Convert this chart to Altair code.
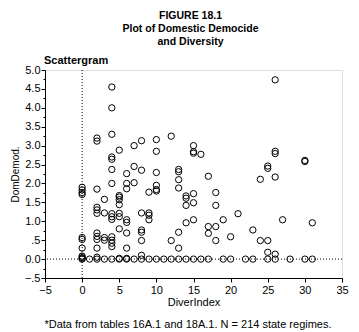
import altair as alt
import pandas as pd

# DiverIndex (x) and DomDemod. (y) readings, paired by position
diver_index = (
    [0]*11 + [1] + [2]*12 + [3]*5 + [4]*15 + [5]*10 + [6]*9 + [7]*4 + [8]*8 + [9]*5 + [10]*7
    + [11] + [12]*3 + [13]*7 + [14]*5 + [15]*7 + [16]*2 + [17]*4 + [18]*4 + [19]*2 + [20]*2
    + [21] + [22] + [23]*2 + [24]*2 + [25]*5 + [26]*6 + [27] + [28] + [30]*3 + [31]*2
)
dom_demod = (
    [1.90, 1.83, 1.76, 1.71, 0.57, 0.52, 0.29, 0.08, 0.04, 0.02, 0.0]          # 0
    + [0.0]                                                                       # 1
    + [3.20, 3.12, 1.85, 1.37, 1.30, 1.21, 0.69, 0.60, 0.52, 0.29, 0.05, 0.0]     # 2
    + [1.58, 1.22, 0.57, 0.50, 0.0]                                               # 3
    + [4.55, 4.00, 3.30, 2.70, 2.64, 2.37, 2.00, 1.20, 1.12, 1.05, 0.59, 0.50, 0.42, 0.33, 0.0]  # 4
    + [2.88, 1.68, 1.64, 1.57, 1.44, 1.21, 1.12, 0.80, 0.02, 0.0]                 # 5
    + [2.26, 2.00, 1.86, 1.04, 0.97, 0.69, 0.29, 0.02, 0.0]                       # 6
    + [3.00, 2.45, 2.02, 0.0]                                                     # 7
    + [3.13, 2.35, 1.22, 0.77, 0.71, 0.49, 0.10, 0.0]                             # 8
    + [1.77, 1.22, 1.16, 1.04, 0.0]                                               # 9
    + [3.16, 2.85, 2.29, 1.95, 1.84, 1.80, 0.0]                                   # 10
    + [0.0]                                                                       # 11
    + [3.25, 0.49, 0.0]                                                           # 12
    + [2.37, 2.31, 2.10, 1.88, 0.71, 0.29, 0.0]                                   # 13
    + [1.67, 1.61, 1.42, 0.96, 0.0]                                               # 14
    + [3.00, 2.84, 2.80, 1.73, 1.49, 1.04, 0.0]                                   # 15
    + [2.77, 0.0]                                                                 # 16
    + [2.19, 0.86, 0.68, 0.0]                                                     # 17
    + [1.76, 1.42, 0.86, 0.49]                                                    # 18
    + [1.04, 0.0]                                                                 # 19
    + [0.59, 0.0]                                                                 # 20
    + [1.20]                                                                      # 21
    + [0.0]                                                                       # 22
    + [0.77, 0.0]                                                                 # 23
    + [2.11, 0.49]                                                                # 24
    + [2.46, 2.40, 0.49, 0.18, 0.0]                                               # 25
    + [4.74, 2.85, 2.79, 2.17, 0.13, 0.0]                                         # 26
    + [1.04]                                                                      # 27
    + [0.0]                                                                       # 28
    + [2.61, 2.58, 0.0]                                                           # 30
    + [0.96, 0.0]                                                                 # 31
)

x_ticks = [-5, 0, 5, 10, 15, 20, 25, 30, 35]
y_ticks = [-0.5 + 0.25 * i for i in range(23)]

title_lines = ["FIGURE 18.1", "Plot of Domestic Democide", "and Diversity"]
panel_label = ["Scattergram"]
footnote = ["*Data from tables 16A.1 and 18A.1. N = 214 state regimes."]

df = pd.DataFrame({"DiverIndex": diver_index, "DomDemod": dom_demod})

FONT = "Liberation Sans"

xscale = alt.Scale(domain=[-5, 35], nice=False, zero=False)
yscale = alt.Scale(domain=[-0.5, 5.0], nice=False, zero=False)

x_axis = alt.Axis(
    values=x_ticks, grid=False, domainColor="black", tickColor="black",
    tickSize=4, labelFont=FONT, labelFontSize=11, labelColor="black",
    labelPadding=2, labelOverlap=False, labelFlush=False, labelBound=False,
    title="DiverIndex", titleFont=FONT, titleFontSize=11,
    titleFontWeight="normal", titleColor="black", titlePadding=1,
)
y_axis = alt.Axis(
    values=y_ticks, grid=False, domainColor="black", tickColor="black",
    tickSize={"condition": {"test": "abs(datum.value*2 - round(datum.value*2)) > 0.01", "value": 2}, "value": 4},
    labelExpr="abs(datum.value*2 - round(datum.value*2)) > 0.01 ? '' : (abs(datum.value) < 1 && datum.value != 0 ? replace(format(datum.value, '.1f'), '0.', '.') : format(datum.value, '.1f'))",
    labelFont=FONT, labelFontSize=11, labelColor="black", labelPadding=1,
    labelOverlap=False, labelFlush=False, labelBound=False,
    title="DomDemod.", titleFont=FONT, titleFontSize=10, titleFontWeight="normal",
    titleColor="black", titlePadding=4,
)

base = alt.Chart(df)

points = base.mark_point(
    shape="circle", filled=False, color="black", size=40, strokeWidth=1, opacity=1
).encode(
    x=alt.X("DiverIndex:Q", scale=xscale, axis=x_axis),
    y=alt.Y("DomDemod:Q", scale=yscale, axis=y_axis),
)

vline = alt.Chart(pd.DataFrame({"x": [0]})).mark_rule(
    color="black", strokeDash=[1, 2], strokeWidth=1
).encode(x=alt.X("x:Q", scale=xscale, axis=x_axis, title="DiverIndex"))

hline = alt.Chart(pd.DataFrame({"y": [0.0]})).mark_rule(
    color="black", strokeDash=[1, 2], strokeWidth=1
).encode(y=alt.Y("y:Q", scale=yscale, axis=y_axis, title="DomDemod."))

label = alt.Chart(pd.DataFrame({"t": panel_label})).mark_text(
    font=FONT, fontWeight="bold", fontSize=11,
    align="left", baseline="middle", color="black"
).encode(text="t:N", x=alt.value(-1), y=alt.value(-9))

foot = alt.Chart(pd.DataFrame({"t": footnote})).mark_text(
    font=FONT, fontSize=11, align="center", baseline="middle", color="black"
).encode(text="t:N", x=alt.value(143), y=alt.value(255))

chart = alt.layer(vline, hline, points, label, foot).properties(
    width=297,
    height=208,
    padding={"left": 45, "top": 70, "right": 17, "bottom": 54},
    autosize=alt.AutoSizeParams(type="none"),
    title=alt.TitleParams(
        text=title_lines, anchor="middle", font=FONT,
        fontWeight="bold", fontSize=10.5, lineHeight=13, color="black",
        offset=8, dx=-3,
    ),
).configure_view(stroke=None).configure(background="white")

chart.save("out.html", embed_options={"renderer": "svg", "actions": False})
